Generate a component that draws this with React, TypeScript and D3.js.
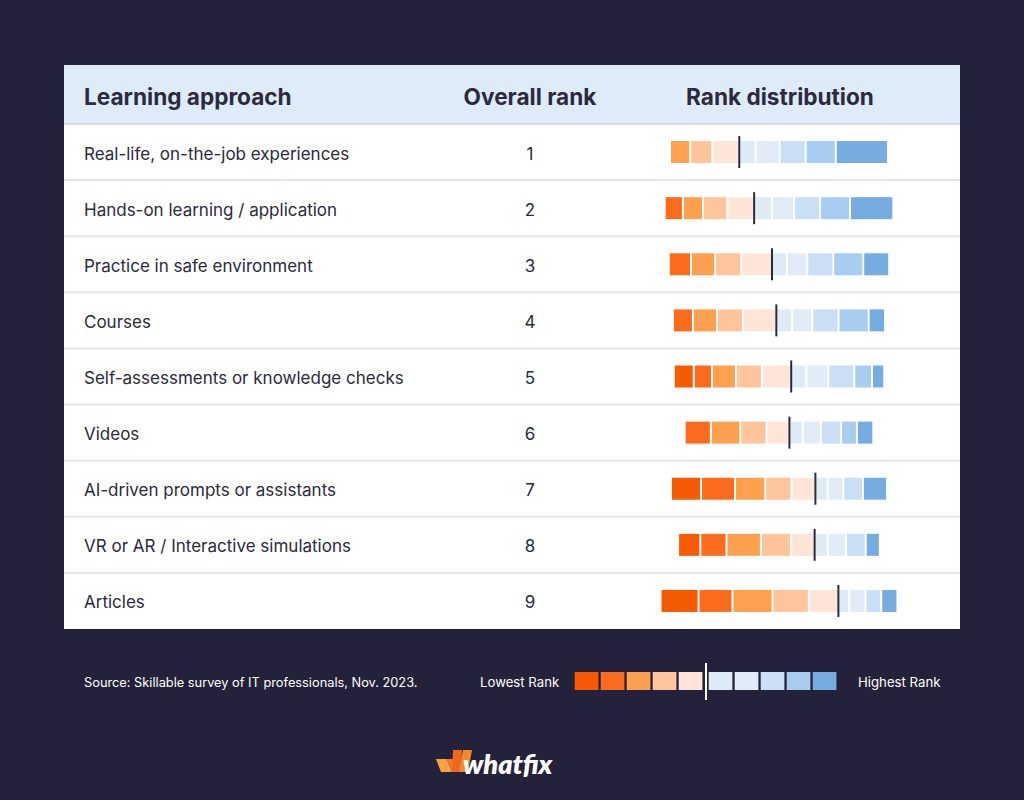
import * as d3 from 'd3';

const approaches = [
  'Real-life, on-the-job experiences',
  'Hands-on learning / application',
  'Practice in safe environment',
  'Courses',
  'Self-assessments or knowledge checks',
  'Videos',
  'AI-driven prompts or assistants',
  'VR or AR / Interactive simulations',
  'Articles',
];

const overallRank = [1, 2, 3, 4, 5, 6, 7, 8, 9];

// share of each rank bucket, lowest -> highest (first 5 orange, last 5 blue)
const dist1 = [0, 0, 9.1, 10.0, 12.1, 7.3, 10.9, 11.7, 13.6, 23.5];
const dist2 = [0, 8.2, 9.1, 10.9, 12.1, 8.0, 10.0, 11.7, 13.5, 19.5];
const dist3 = [0, 10.0, 10.9, 11.8, 13.8, 6.7, 9.2, 11.7, 13.5, 11.7];
const dist4 = [0, 9.0, 10.9, 11.7, 15.0, 7.1, 9.1, 11.8, 13.6, 7.4];
const dist5 = [9.0, 8.2, 10.8, 11.7, 13.2, 6.8, 9.9, 11.7, 8.0, 5.5];
const dist6 = [0, 11.8, 13.3, 11.8, 10.3, 6.0, 8.2, 9.1, 7.1, 7.4];
const dist7 = [13.6, 15.3, 13.6, 11.8, 10.8, 5.5, 7.1, 8.8, 0, 10.9];
const dist8 = [10.0, 11.8, 15.5, 13.6, 10.6, 5.9, 8.2, 8.9, 0, 6.4];
const dist9 = [17.1, 15.3, 18.0, 16.4, 13.3, 4.9, 7.3, 7.1, 0, 7.3];

const distributions = [dist1, dist2, dist3, dist4, dist5, dist6, dist7, dist8, dist9];

const rankColors = [
  '#f65b04', '#fc6c1e', '#fda04f', '#fec49c', '#fee5d8',
  '#dfeaf7', '#e2ecf8', '#c8dff5', '#a8cdf0', '#76ace0',
];

const legendLow = 'Lowest Rank';
const legendHigh = 'Highest Rank';
const source = 'Source: Skillable survey of IT professionals, Nov. 2023.';

const W = 1024;
const H = 800;
const TABLE = { left: 64, right: 960, top: 65, header: 124, bottom: 629 };
const BAR_CENTER = 780;
const BAR_H = 22;
const GAP = 2;
const FONT = 'Inter, "Noto Sans", sans-serif';

export default function App() {
  const y = d3.scaleBand<string>().domain(approaches).range([TABLE.header, TABLE.bottom]);
  const x = d3.scaleLinear().domain([0, 100]).range([0, 222]);

  const rows = approaches.map((name, i) => {
    const vals = distributions[i];
    const total = d3.sum(vals);
    const start = BAR_CENTER - x(total) / 2;
    const cum = d3.cumsum(vals);
    const segs = vals.map((v, k) => ({
      v,
      k,
      x0: start + x(cum[k] - v),
      w: x(v) - GAP,
    }));
    const divider = start + x(cum[4]) - GAP / 2;
    return { name, rank: overallRank[i], segs, divider, cy: (y(name) ?? 0) + y.bandwidth() / 2 };
  });

  // legend
  const legendX = d3.scaleBand<number>().domain(d3.range(10)).range([574.7, 574.7 + 26 * 10]);
  const legendShift = (k: number) => (k >= 5 ? 4 : 0);

  return (
    <svg width={W} height={H} style={{ position: 'absolute', left: 0, top: 0 }} fontFamily={FONT}>
      <rect width={W} height={H} fill="#24213a" />

      {/* table */}
      <rect x={TABLE.left} y={TABLE.top} width={TABLE.right - TABLE.left} height={TABLE.bottom - TABLE.top} fill="#ffffff" />
      <rect x={TABLE.left} y={TABLE.top} width={TABLE.right - TABLE.left} height={TABLE.header - TABLE.top} fill="#deebf8" />
      <line x1={TABLE.left} x2={TABLE.right} y1={TABLE.header} y2={TABLE.header} stroke="#cfd5de" strokeWidth={1.5} />

      <g fontSize={22.6} fontWeight={700} fill="#2b2a40" dominantBaseline="central">
        <text x={84} y={96}>Learning approach</text>
        <text x={530} y={96} textAnchor="middle">Overall rank</text>
        <text x={780} y={96} textAnchor="middle">Rank distribution</text>
      </g>

      {rows.map((r, i) => (
        <g key={r.name}>
          {i > 0 && (
            <line
              x1={TABLE.left}
              x2={TABLE.right}
              y1={y(r.name)}
              y2={y(r.name)}
              stroke="#e6e6ea"
              strokeWidth={2}
            />
          )}
          <text x={84} y={r.cy + 1.5} fontSize={17} fill="#2b2a3d" dominantBaseline="central">
            {r.name}
          </text>
          <text x={530} y={r.cy + 1.5} fontSize={17} fill="#2b2a3d" textAnchor="middle" dominantBaseline="central">
            {r.rank}
          </text>
          {r.segs
            .filter((s) => s.v > 0)
            .map((s) => (
              <rect key={s.k} x={s.x0} y={r.cy - BAR_H / 2} width={s.w} height={BAR_H} fill={rankColors[s.k]} />
            ))}
          <line
            x1={r.divider}
            x2={r.divider}
            y1={r.cy - BAR_H / 2 - 5}
            y2={r.cy + BAR_H / 2 + 5}
            stroke="#2a2940"
            strokeWidth={2}
          />
        </g>
      ))}

      {/* footer */}
      <text x={84} y={682} fontSize={12.8} fill="#ffffff" dominantBaseline="central">
        {source}
      </text>
      <text x={480} y={682} fontSize={13.2} fill="#ffffff" dominantBaseline="central">
        {legendLow}
      </text>
      {d3.range(10).map((k) => (
        <rect
          key={k}
          x={(legendX(k) ?? 0) + legendShift(k)}
          y={672}
          width={23.7}
          height={18}
          fill={rankColors[k]}
        />
      ))}
      <line x1={706} x2={706} y1={663} y2={700} stroke="#ffffff" strokeWidth={2} />
      <text x={858} y={682} fontSize={13.2} fill="#ffffff" dominantBaseline="central">
        {legendHigh}
      </text>

      {/* logo */}
      <g>
        <polygon points="436,759 447,759 452,772 441,772" fill="#f7a044" />
        <polygon points="447,759 455,759 460,772 452,772" fill="#f47a28" />
        <polygon points="453,750 462,750 461,772 452,772" fill="#f0661a" />
        <polygon points="463,750 472,750 468,772 459,772" fill="#f28a2e" />
        <text x={463} y={774} fontSize={27} fontWeight={800} fontStyle="italic" fill="#ffffff" fontFamily="Lato, Inter, sans-serif">
          whatfix
        </text>
      </g>
    </svg>
  );
}
